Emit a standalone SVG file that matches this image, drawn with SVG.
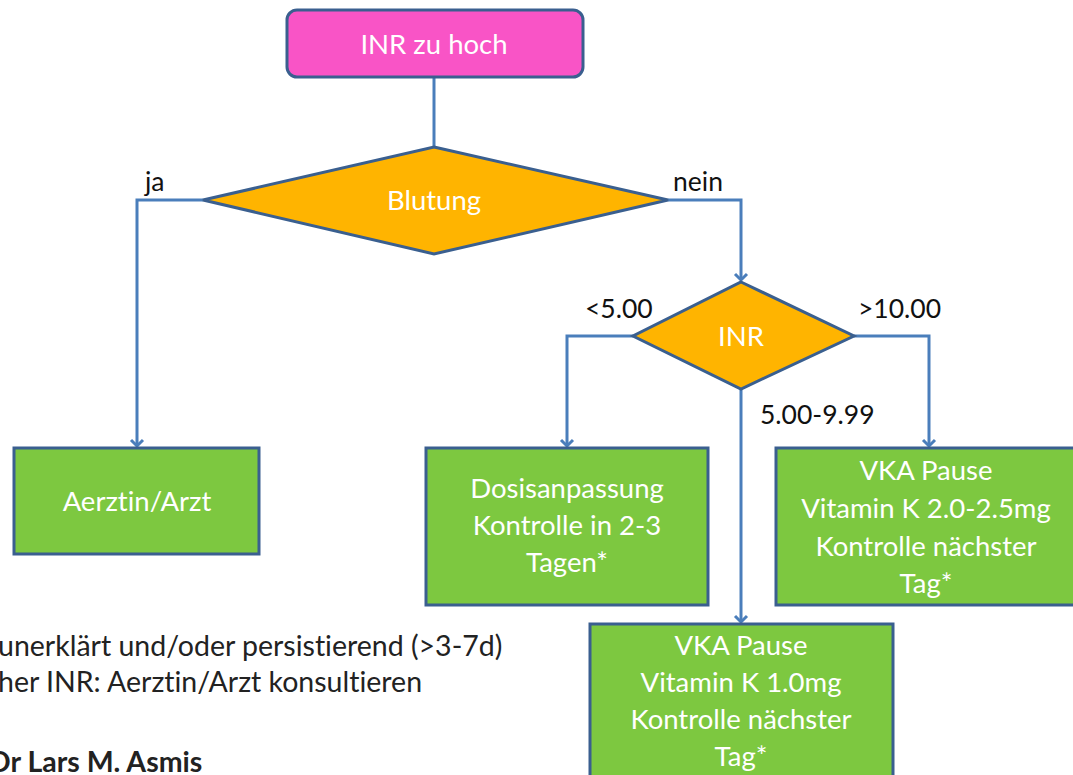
<svg xmlns="http://www.w3.org/2000/svg" width="1073" height="775" viewBox="0 0 1073 775">
<defs>
<style>
.box{stroke:#3a5f8f;stroke-width:3}
.pink{fill:#f954c6}
.orange{fill:#ffb400}
.green{fill:#7dc840}
.wt{fill:#ffffff;font-family:Lato,"Liberation Sans",sans-serif;font-size:27.5px;text-anchor:middle;font-variant-ligatures:none}
.lbl{fill:#111111;font-family:Lato,"Liberation Sans",sans-serif;font-size:26.5px}
.note{fill:#222222;font-family:Lato,"Liberation Sans",sans-serif;font-size:28.5px;font-variant-ligatures:none}
.con{fill:none;stroke:#4a7ebb;stroke-width:3}
</style>
<marker id="arr" markerWidth="16" markerHeight="16" refX="8" refY="8" orient="auto" markerUnits="userSpaceOnUse">
<polyline points="2,2 8,8 2,14" fill="none" stroke="#4a7ebb" stroke-width="3"/>
</marker>
</defs>
<rect width="1073" height="775" fill="#ffffff"/>
<g id="connectors">
<line class="con" x1="434" y1="77" x2="434" y2="147"/>
<polyline class="con" points="203,200 137,200 137,446" marker-end="url(#arr)"/>
<polyline class="con" points="668,200 741,200 741,280" marker-end="url(#arr)"/>
<polyline class="con" points="633,336 567,336 567,446" marker-end="url(#arr)"/>
<polyline class="con" points="854,336 929,336 929,446" marker-end="url(#arr)"/>
<polyline class="con" points="741,389 741,622" marker-end="url(#arr)"/>
<text class="lbl" x="145" y="191">ja</text>
<text class="lbl" x="673" y="191">nein</text>
<text class="lbl" x="585" y="318">&lt;5.00</text>
<text class="lbl" x="858" y="318">&gt;10.00</text>
<text class="lbl" x="760" y="424">5.00-9.99</text>
</g>
<g id="start">
<rect class="box pink" x="287" y="10" width="296" height="67" rx="10"/>
<text class="wt" x="434" y="54">INR zu hoch</text>
</g>
<g id="blutung">
<polygon class="box orange" points="434,147 668,200 434,254 203,200"/>
<text class="wt" x="434" y="210">Blutung</text>
</g>
<g id="inr">
<polygon class="box orange" points="741,282 854,336 741,389 633,336"/>
<text class="wt" x="741" y="346">INR</text>
</g>
<g id="arzt">
<rect class="box green" x="14" y="448" width="245" height="106"/>
<text class="wt" x="137" y="511">Aerztin/Arzt</text>
</g>
<g id="dosis">
<rect class="box green" x="426" y="448" width="282" height="157"/>
<text class="wt" x="567" y="498">Dosisanpassung</text>
<text class="wt" x="567" y="535">Kontrolle in  2-3</text>
<text class="wt" x="567" y="572">Tagen*</text>
</g>
<g id="vka-high">
<rect class="box green" x="776" y="448" width="300" height="157"/>
<text class="wt" x="926" y="480">VKA Pause</text>
<text class="wt" x="926" y="518">Vitamin K 2.0-2.5mg</text>
<text class="wt" x="926" y="556">Kontrolle nächster</text>
<text class="wt" x="926" y="593">Tag*</text>
</g>
<g id="vka-mid">
<rect class="box green" x="590" y="624" width="303" height="160"/>
<text class="wt" x="741" y="655">VKA Pause</text>
<text class="wt" x="741" y="692">Vitamin K 1.0mg</text>
<text class="wt" x="741" y="729">Kontrolle nächster</text>
<text class="wt" x="741" y="766">Tag*</text>
</g>
<g id="notes">
<text class="note" x="-2" y="656">unerklärt und/oder persistierend (&gt;3-7d)</text>
<text class="note" x="-2" y="692">her INR: Aerztin/Arzt konsultieren</text>
<text class="note" x="-11" y="772" font-weight="bold">Dr Lars M. Asmis</text>
</g>
</svg>
